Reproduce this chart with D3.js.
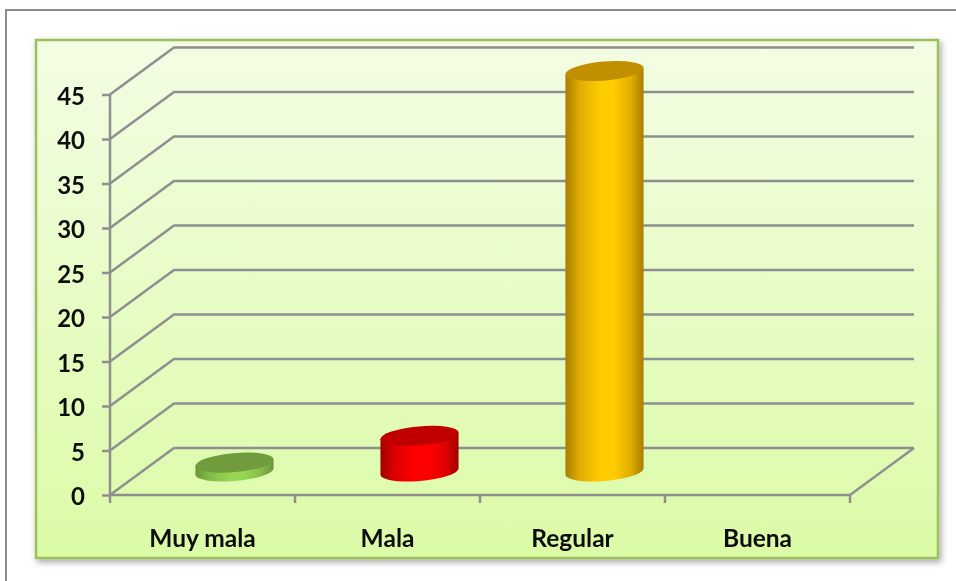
<!DOCTYPE html>
<html>
<head>
<meta charset="utf-8">
<script src="https://cdn.jsdelivr.net/npm/d3@7"></script>
<style>
  html, body { margin: 0; padding: 0; background: #fff; overflow: hidden; }
  svg { display: block; }
  text { font-family: Lato, "Open Sans", sans-serif; font-weight: 700; fill: #111; }
</style>
</head>
<body>
<script>
const categories = ["Muy mala", "Mala", "Regular", "Buena"];
const values = [1, 4, 45, 0];
const yTicks = [0, 5, 10, 15, 20, 25, 30, 35, 40, 45];
const barColors = [
  { edge: "#6a9636", soft: "#84bb47", mid: "#97d653", top: "#6f9c3c" },
  { edge: "#a00000", soft: "#dd0000", mid: "#ff0000", top: "#c00000" },
  { edge: "#a87e00", soft: "#e0ac00", mid: "#ffcc00", top: "#c09000" }
];

const w = 956;
const h = 581;
const gridColor = "#8f8f8f";

// depth of the fake 3d floor
const depthX = 64;
const depthY = 47;

const svg = d3.select("body").append("svg")
  .attr("width", w)
  .attr("height", h);

const defs = svg.append("defs");

const bg = defs.append("linearGradient")
  .attr("id", "panelFill")
  .attr("x1", 0).attr("y1", 0).attr("x2", 0).attr("y2", 1);
bg.append("stop").attr("offset", "0%").attr("stop-color", "#f3fde4");
bg.append("stop").attr("offset", "100%").attr("stop-color", "#dbfba6");

defs.append("filter").attr("id", "shadow")
  .attr("x", "-5%").attr("y", "-5%").attr("width", "110%").attr("height", "110%")
  .append("feDropShadow")
  .attr("dx", 2).attr("dy", 3).attr("stdDeviation", 3)
  .attr("flood-color", "#000").attr("flood-opacity", 0.35);

defs.append("filter").attr("id", "soft")
  .append("feGaussianBlur").attr("stdDeviation", 0.55);

barColors.forEach((c, i) => {
  const g = defs.append("linearGradient")
    .attr("id", "barFill" + i)
    .attr("x1", 0).attr("y1", 0).attr("x2", 1).attr("y2", 0);
  g.append("stop").attr("offset", "0%").attr("stop-color", c.edge);
  g.append("stop").attr("offset", "18%").attr("stop-color", c.soft);
  g.append("stop").attr("offset", "45%").attr("stop-color", c.mid);
  g.append("stop").attr("offset", "62%").attr("stop-color", c.mid);
  g.append("stop").attr("offset", "84%").attr("stop-color", c.soft);
  g.append("stop").attr("offset", "100%").attr("stop-color", c.edge);
});

// outer frame, runs off the right side of the picture
svg.append("path")
  .attr("d", d3.line()([[6, h + 2], [6, 10], [w + 2, 10]]))
  .attr("fill", "none")
  .attr("stroke", "#8c8c8c")
  .attr("stroke-width", 2);

// panel
svg.append("rect")
  .attr("x", 36).attr("y", 40)
  .attr("width", 902).attr("height", 518)
  .attr("fill", "url(#panelFill)")
  .attr("stroke", "#9dbf5b")
  .attr("stroke-width", 2.5)
  .attr("filter", "url(#shadow)");

const x = d3.scaleBand().domain(categories).range([110, 850]);
const y = d3.scaleLinear().domain([0, 45]).range([495, 94.5]);

const chart = svg.append("g").attr("filter", "url(#soft)");

// gridlines: front edge, up the side wall, along the back wall
chart.selectAll("path.grid")
  .data(yTicks)
  .enter()
  .append("path")
  .attr("class", "grid")
  .attr("fill", "none")
  .attr("stroke", gridColor)
  .attr("stroke-width", 2.5)
  .attr("d", (d) => d3.line()([
    [x.range()[0], y(d)],
    [x.range()[0] + depthX, y(d) - depthY],
    [x.range()[1] + depthX, y(d) - depthY]
  ]));

// right side of the floor
chart.append("path")
  .attr("fill", "none")
  .attr("stroke", gridColor)
  .attr("stroke-width", 2.5)
  .attr("d", d3.line()([
    [x.range()[1], y(0)],
    [x.range()[1] + depthX, y(0) - depthY]
  ]));

const yAxis = d3.axisLeft(y)
  .tickValues(yTicks)
  .tickSize(8)
  .tickPadding(17);

const yG = chart.append("g")
  .attr("transform", "translate(110,0)")
  .call(yAxis);

const xAxis = d3.axisBottom(x)
  .tickSize(0)
  .tickPadding(35);

const xG = chart.append("g")
  .attr("transform", "translate(0,495)")
  .call(xAxis);

// category ticks sit between the bands
xG.selectAll("line.edge")
  .data(categories.concat([null]))
  .enter()
  .append("line")
  .attr("class", "edge")
  .attr("x1", (d, i) => x.range()[0] + i * x.step())
  .attr("x2", (d, i) => x.range()[0] + i * x.step())
  .attr("y1", 0)
  .attr("y2", 8)
  .attr("stroke", gridColor)
  .attr("stroke-width", 2.5);

chart.selectAll(".domain, .tick line")
  .attr("stroke", gridColor)
  .attr("stroke-width", 2.5);

yG.selectAll("text").style("font-size", "24px").attr("dy", "0.4em").attr("fill", "#111");
xG.selectAll("text").style("font-size", "24.5px").attr("fill", "#111");
xG.select(".domain").attr("d", `M${x.range()[0]},0H${x.range()[1]}`);
yG.select(".domain").attr("d", `M0,${y(0)}V${y(45)}`);

// cylinders
const rx = 39.2;
const ry = 9.5;
const tilt = 5;
const rad = tilt * Math.PI / 180;
// where the tilted ellipse has its left and right extremes
const edgeX = Math.sqrt(rx * rx * Math.cos(rad) ** 2 + ry * ry * Math.sin(rad) ** 2);
const edgeY = (rx * rx - ry * ry) * Math.sin(rad) * Math.cos(rad) / edgeX;

const bars = chart.selectAll("g.bar")
  .data(values.map((v, i) => ({ cat: categories[i], v: v, i: i })).filter((d) => d.v > 0))
  .enter()
  .append("g")
  .attr("class", "bar");

const cx = (d) => x(d.cat) + x.bandwidth() / 2 + depthX / 2;
const baseY = () => y(0) - depthY / 2;
const topY = (d) => y(d.v) - depthY / 2;

bars.append("path")
  .attr("fill", (d) => `url(#barFill${d.i})`)
  .attr("d", (d) => {
    const c = cx(d);
    return `M${c - edgeX},${topY(d) + edgeY}` +
      `L${c - edgeX},${baseY() + edgeY}` +
      `A${rx},${ry} ${-tilt} 0 0 ${c + edgeX},${baseY() - edgeY}` +
      `L${c + edgeX},${topY(d) - edgeY}Z`;
  });

bars.append("ellipse")
  .attr("rx", rx)
  .attr("ry", ry)
  .attr("fill", (d) => barColors[d.i].top)
  .attr("transform", (d) => `translate(${cx(d)},${topY(d)}) rotate(${-tilt})`);
</script>
</body>
</html>
